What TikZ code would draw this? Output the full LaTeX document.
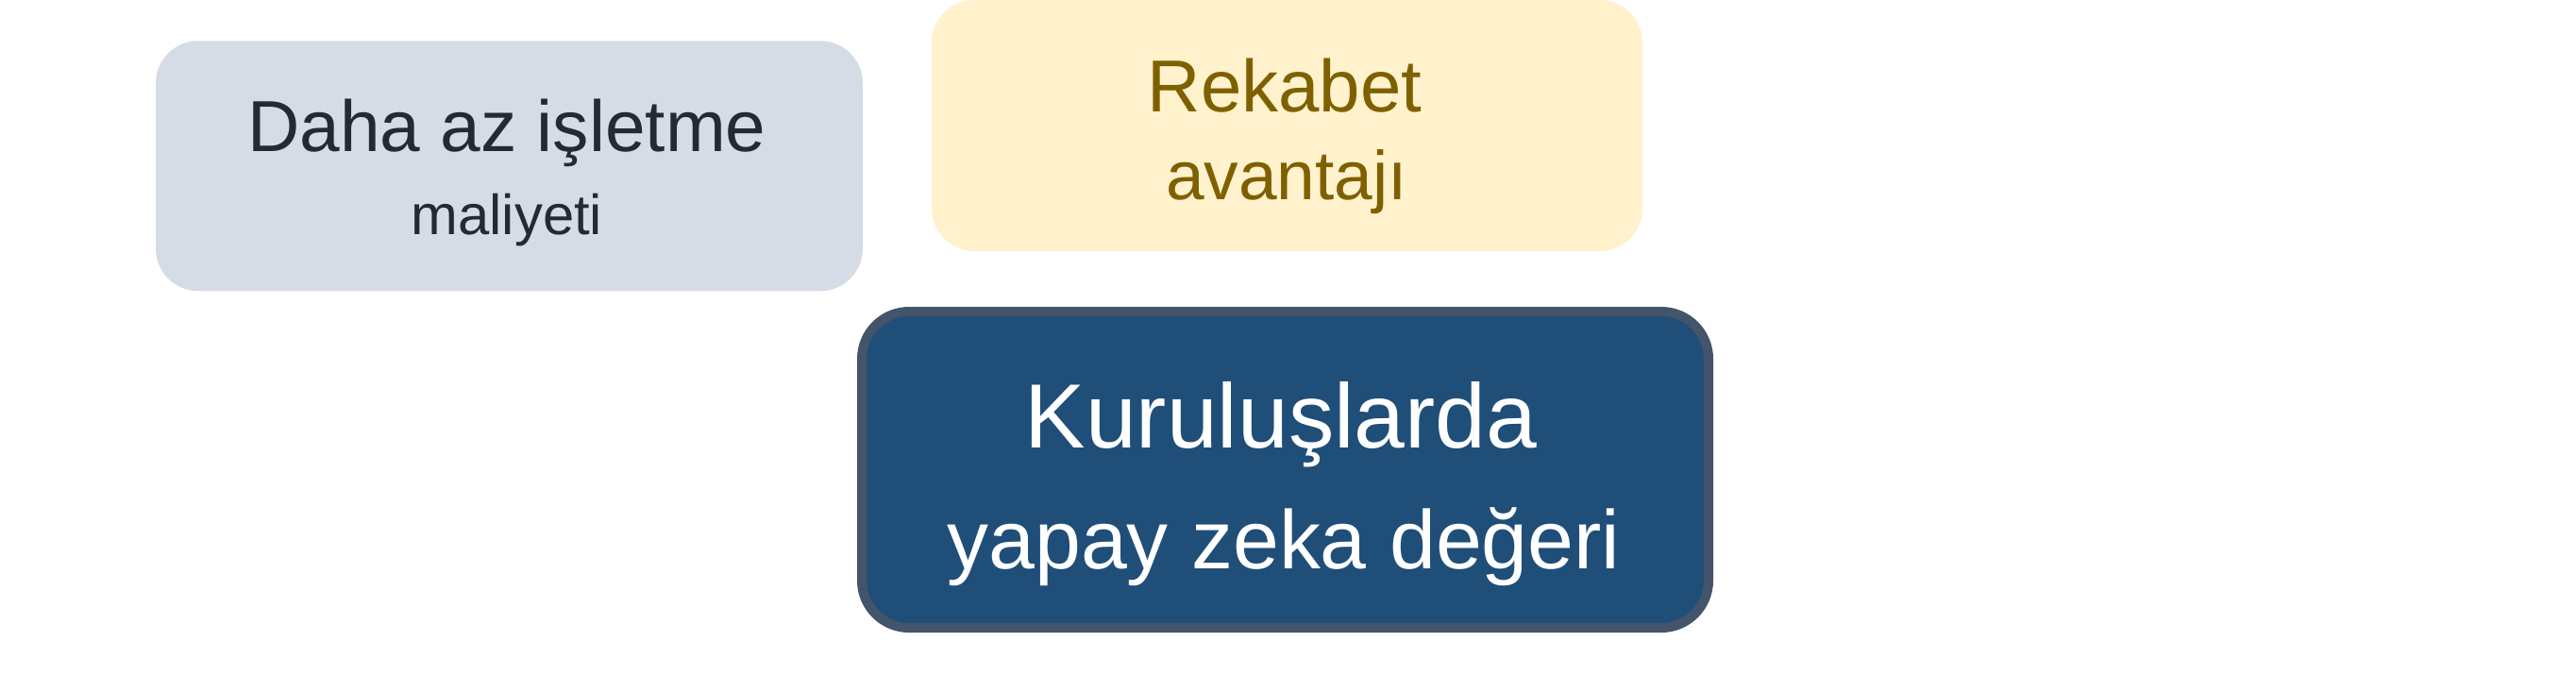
\documentclass[tikz,border=0pt]{standalone}
\usepackage{fontspec}
\setmainfont{Liberation Sans}
\usepackage{tikz}
\definecolor{grayfill}{RGB}{214,220,229}
\definecolor{graytext}{RGB}{34,42,53}
\definecolor{yelfill}{RGB}{255,242,204}
\definecolor{yeltext}{RGB}{127,96,0}
\definecolor{bluefill}{RGB}{31,78,121}
\definecolor{blueline}{RGB}{68,84,106}
\tikzset{bx/.append style={rectangle,rounded corners=0.45cm,inner sep=0}}
\tikzset{tx/.append style={anchor=base,inner sep=0}}

\begin{document}
\begin{tikzpicture}
                \useasboundingbox (0,0) rectangle (27.29,-7.32);
                % boxes
                \node[bx,fill=grayfill,minimum width=7.49cm,minimum height=2.65cm] (cost) at (5.395,-1.7575) {};
                \node[bx,fill=yelfill,minimum width=7.53cm,minimum height=2.66cm] (comp) at (13.635,-1.33) {};
                \node[bx,fill=bluefill,draw=blueline,line width=0.1cm,rounded corners=0.5cm,minimum width=8.97cm,minimum height=3.35cm] (ai) at (13.615,-4.975) {};
                % texts
                \node[tx,text=graytext,font=\fontsize{21.8}{26}\selectfont] (cost1) at (5.37,-1.60) {Daha az işletme};
                \node[tx,text=graytext,font=\fontsize{17}{20}\selectfont] (cost2) at (5.37,-2.48) {maliyeti};
                \node[tx,text=yeltext,font=\fontsize{22.2}{26}\selectfont] (comp1) at (13.61,-1.18) {Rekabet};
                \node[tx,text=yeltext,font=\fontsize{20.8}{25}\selectfont] (comp2) at (13.63,-2.11) {avantajı};
                \node[tx,text=white,font=\fontsize{27.5}{33}\selectfont] (ai1) at (13.57,-4.74) {Kuruluşlarda};
                \node[tx,text=white,font=\fontsize{25}{30}\selectfont] (ai2) at (13.60,-6.02) {yapay zeka değeri};
            \end{tikzpicture}
\end{document}
